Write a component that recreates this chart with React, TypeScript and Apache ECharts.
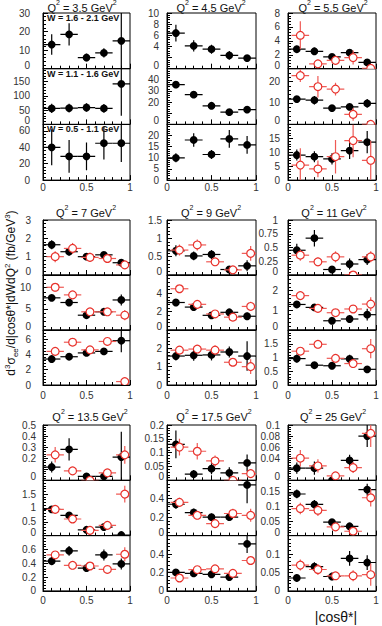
import React, { useEffect, useRef } from 'react';
import * as echarts from 'echarts';

// ---------- data ----------
const xBlack = [0.1, 0.3, 0.5, 0.7, 0.9];
const xRed = [0.14, 0.34, 0.54, 0.74, 0.94];
const xHalfWidth = 0.1;
const q2Values = ['3.5', '4.5', '5.5', '7', '9', '11', '13.5', '17.5', '25'];
const wBinLabels = ['W = 1.6 - 2.1 GeV', 'W = 1.1 - 1.6 GeV', 'W = 0.5 - 1.1 GeV'];
const xTickLabels = ['0', '0.5', '1'];

// rows: W bins top, middle, bottom
const q35Black = [[13, 18.5, 6, 8.5, 15], [56, 57, 59, 56, 142], [40, 29, 29, 45, 45]];
const q35BlackErr = [[5.5, 6, 2, 2.5, 15], [16, 15, 15, 15, 112], [22, 20, 17, 20, 23]];

const q45Black = [[6.4, 4.1, 3.5, 2.4, 1.9], [35.7, 26.7, 16.7, 11, 13.3], [10, 18, 11.5, 18.5, 15.8]];
const q45BlackErr = [[1.5, 1.0, 0.8, 0.8, 0.5], [3, 3, 2, 2, 3], [2, 3, 2, 4, 4]];

const q55Black = [[2.8, 2.5, 1.7, 2.3, 0.9], [11.8, 11.3, 7.6, 8.2, 9.8], [9, 8.4, 7.6, 10.6, 13.6]];
const q55BlackErr = [[0.5, 0.5, 0.4, 0.5, 0.4], [1.5, 2, 1, 1.5, 2], [2, 2, 2, 3, 4]];
const q55Red = [[4.8, 0.7, 1.2, 1.6, 0.05], [22.8, 17.6, 16.5, 4.7, 0], [5.4, 4, 8.4, 14.2, 7.1]];
const q55RedErr = [[2.0, 0.6, 0.6, 1.0, 0.3], [3, 5, 3, 3, 0.5], [6, 3, 6, 6, 7]];

const q7Black = [[1.65, 1.27, 1.0, 1.1, 0.67], [7.6, 6.5, 3.5, 4.3, 7.1], [3.4, 3.7, 4.2, 4.4, 5.8]];
const q7BlackErr = [[0.25, 0.2, 0.15, 0.15, 0.15], [0.6, 0.5, 0.5, 0.5, 1.3], [0.3, 0.3, 0.3, 0.4, 1.5]];
const q7Red = [[1.0, 1.45, 0.96, 0.9, 0.55], [10.1, 8.3, 4.3, 4.3, 3.5], [4.4, 5.6, 4.6, 5.7, 0.45]];
const q7RedErr = [[0.3, 0.3, 0.25, 0.2, 0.2], [1, 0.8, 0.6, 0.6, 1.2], [0.5, 0.5, 0.5, 0.6, 0.3]];

const q9Black = [[0.66, 0.52, 0.56, 0.15, 0.25], [3.0, 2.5, 1.6, 1.93, 1.5], [1.58, 1.62, 1.64, 1.8, 1.58]];
const q9BlackErr = [[0.15, 0.12, 0.12, 0.05, 0.15], [0.3, 0.2, 0.2, 0.3, 0.4], [0.25, 0.3, 0.3, 0.3, 0.8]];
const q9Red = [[0.68, 0.82, 0.36, 0.14, 0.59], [4.5, 2.8, 1.75, 1.4, 2.57], [1.9, 1.96, 1.9, 1.24, 1.0]];
const q9RedErr = [[0.15, 0.15, 0.1, 0.05, 0.2], [0.4, 0.3, 0.25, 0.25, 0.5], [0.2, 0.2, 0.25, 0.2, 0.4]];

const q11Black = [[0.45, 0.67, 0.1, 0.2, 0.28], [1.3, 1.15, 0.47, 0.56, 0.78], [0.96, 0.72, 0.7, 0.95, 0.57]];
const q11BlackErr = [[0.12, 0.15, 0.05, 0.1, 0.1], [0.15, 0.15, 0.15, 0.2, 0.3], [0.15, 0.1, 0.1, 0.15, 0.1]];
const q11Red = [[0.36, 0.24, 0.33, 0.0, 0.33], [1.75, 1.1, 0.88, 1.07, 1.32], [1.23, 1.48, 0.97, 0.78, 1.32]];
const q11RedErr = [[0.1, 0.08, 0.1, 0.05, 0.1], [0.2, 0.15, 0.15, 0.2, 0.35], [0.15, 0.15, 0.15, 0.1, 0.35]];

const q135Black = [[0.12, 0.28, 0.036, 0.036, 0.21], [0.95, 0.73, 0.21, 0.31, 0.02], [0.43, 0.58, 0.33, 0.52, 0.39]];
const q135BlackErr = [[0.05, 0.1, 0.03, 0.03, 0.23], [0.1, 0.08, 0.05, 0.05, 0.02], [0.06, 0.07, 0.05, 0.08, 0.08]];
const q135Red = [[0.23, 0.085, 0.0, 0.067, 0.23], [0.95, 0.6, 0.19, 0.37, 1.5], [0.52, 0.37, 0.36, 0.31, 0.53]];
const q135RedErr = [[0.07, 0.03, 0.02, 0.03, 0.08], [0.1, 0.08, 0.05, 0.07, 0.3], [0.05, 0.05, 0.05, 0.06, 0.1]];

const q175Black = [[0.13, 0.022, 0.042, 0.027, 0.063], [0.34, 0.25, 0.2, 0.2, 0.55], [0.2, 0.19, 0.18, 0.15, 0.51]];
const q175BlackErr = [[0.05, 0.015, 0.02, 0.02, 0.03], [0.05, 0.04, 0.04, 0.04, 0.2], [0.03, 0.03, 0.04, 0.03, 0.1]];
const q175Red = [[0.12, 0.105, 0.07, 0.0, 0.024], [0.36, 0.22, 0.13, 0.24, 0.22], [0.14, 0.23, 0.24, 0.19, 0.33]];
const q175RedErr = [[0.03, 0.03, 0.02, 0.01, 0.015], [0.05, 0.04, 0.03, 0.05, 0.07], [0.02, 0.04, 0.04, 0.03, 0.05]];

const q25Black = [[0.022, 0.022, 0.0, 0.036, 0.08], [0.143, 0.107, 0.046, 0.032, 0.158], [0.035, 0.066, 0.039, 0.088, 0.077]];
const q25BlackErr = [[0.01, 0.012, 0.005, 0.01, 0.02], [0.015, 0.015, 0.01, 0.01, 0.02], [0.01, 0.012, 0.01, 0.02, 0.02]];
const q25Red = [[0.04, 0.026, 0.008, 0.023, 0.085], [0.093, 0.087, 0.03, 0.015, 0.13], [0.07, 0.058, 0.041, 0.041, 0.044]];
const q25RedErr = [[0.015, 0.012, 0.006, 0.01, 0.025], [0.02, 0.02, 0.01, 0.008, 0.03], [0.015, 0.015, 0.01, 0.015, 0.03]];

// y-axis ranges and tick steps per group (top, middle, bottom)
const yMaxes = [[30, 195, 68], [10, 50, 25], [8, 26, 20], [3, 13, 7.2], [1.5, 6, 3], [1, 2.8, 2], [0.5, 2, 0.8], [0.2, 0.6, 0.6], [0.1, 0.19, 0.15]];
const ySteps = [[10, 50, 20], [2, 10, 5], [2, 10, 5], [1, 5, 2], [0.5, 2, 1], [0.25, 1, 0.5], [0.1, 0.5, 0.2], [0.05, 0.2, 0.2], [0.02, 0.05, 0.05]];

const blackSets = [q35Black, q45Black, q55Black, q7Black, q9Black, q11Black, q135Black, q175Black, q25Black];
const blackErrSets = [q35BlackErr, q45BlackErr, q55BlackErr, q7BlackErr, q9BlackErr, q11BlackErr, q135BlackErr, q175BlackErr, q25BlackErr];
const redSets = [null, null, q55Red, q7Red, q9Red, q11Red, q135Red, q175Red, q25Red];
const redErrSets = [null, null, q55RedErr, q7RedErr, q9RedErr, q11RedErr, q135RedErr, q175RedErr, q25RedErr];

// ---------- layout ----------
const FONT = 'Liberation Sans, Arial, Helvetica, sans-serif';
const colLeft = [43, 167, 288];
const colWidth = [87, 89, 88];
const rowTop = [13, 220, 425];
const rowPanelH = [55.7, 55, 55.3];
const titleY = [6, 211, 415];
const titleX = [82, 211, 333, 86, 211, 334, 90, 214, 333];
const yLabelMargin = [13, 8, 8, 12, 5, 10, 7, 3, 8];
const xLabelMargin = [2, 5, 5];
const LABEL_COLOR = '#333';

const BLACK = '#000000';
const RED = '#e8322c';
const RED_BAR = '#ef5a55';

function makeRender(hi: number, color: string, barColor: string, filled: boolean) {
  return (params: any, api: any) => {
    const x = api.value(0);
    const y = api.value(1);
    const e = api.value(2);
    const c = api.coord([x, y]);
    const l = api.coord([Math.max(x - xHalfWidth, 0), y]);
    const r = api.coord([Math.min(x + xHalfWidth, 1), y]);
    const t = api.coord([x, Math.min(y + e, hi)]);
    const b = api.coord([x, Math.max(y - e, 0)]);
    return {
      type: 'group',
      children: [
        { type: 'line', shape: { x1: l[0], y1: l[1], x2: r[0], y2: r[1] }, style: { stroke: barColor, lineWidth: 1.2 } },
        { type: 'line', shape: { x1: t[0], y1: t[1], x2: b[0], y2: b[1] }, style: { stroke: barColor, lineWidth: 1.2 } },
        {
          type: 'circle',
          shape: { cx: c[0], cy: c[1], r: 3.9 },
          style: filled ? { fill: color } : { fill: '#ffffff', stroke: color, lineWidth: 1.2 },
        },
      ],
    };
  };
}

function buildOption() {
  const grid: any[] = [];
  const xAxis: any[] = [];
  const yAxis: any[] = [];
  const series: any[] = [];
  const graphic: any[] = [];

  for (let g = 0; g < 9; g++) {
    const col = g % 3;
    const row = Math.floor(g / 3);
    for (let s = 0; s < 3; s++) {
      const idx = g * 3 + s;
      const top = rowTop[row] + s * rowPanelH[row];
      grid.push({
        left: colLeft[col],
        top,
        width: colWidth[col],
        height: rowPanelH[row],
        show: true,
        borderColor: '#000',
        borderWidth: 1,
        backgroundColor: 'transparent',
        containLabel: false,
        outerBoundsMode: 'none',
      });
      xAxis.push({
        type: 'value',
        gridIndex: idx,
        min: 0,
        max: 1,
        interval: 0.5,
        axisLine: { show: true, onZero: false, lineStyle: { color: '#000', width: 1 } },
        axisTick: { show: true, inside: true, length: 5, lineStyle: { color: '#000', width: 1 } },
        minorTick: { show: true, splitNumber: 5, length: 3, lineStyle: { color: '#000', width: 1 } },
        splitLine: { show: false },
        minorSplitLine: { show: false },
        axisLabel: {
          show: s === 2,
          margin: xLabelMargin[row],
          fontSize: 10,
          fontFamily: FONT,
          color: LABEL_COLOR,
          formatter: (v: number) => xTickLabels[Math.round(v * 2)] ?? '',
        },
      });
      const hi = yMaxes[g][s];
      const lowerPanel = s < 2;
      yAxis.push({
        type: 'value',
        gridIndex: idx,
        min: 0,
        max: hi,
        interval: ySteps[g][s],
        axisLine: { show: true, onZero: false, lineStyle: { color: '#000', width: 1 } },
        axisTick: { show: true, inside: true, length: 5, lineStyle: { color: '#000', width: 1 } },
        minorTick: { show: true, splitNumber: 5, length: 3, lineStyle: { color: '#000', width: 1 } },
        splitLine: { show: false },
        minorSplitLine: { show: false },
        axisLabel: {
          show: true,
          showMaxLabel: s === 0,
          showMinLabel: true,
          margin: yLabelMargin[g],
          fontSize: 10,
          lineHeight: 10,
          fontFamily: FONT,
          color: LABEL_COLOR,
          formatter: (v: number) => (lowerPanel && v === 0 ? '{z|0}' : String(v)),
          rich: {
            z: { fontSize: 10, lineHeight: 10, fontFamily: FONT, color: LABEL_COLOR, padding: [0, 0, 7, 0] },
          },
        },
      });
      const bVals = blackSets[g][s];
      const bErrs = blackErrSets[g][s];
      series.push({
        type: 'custom',
        xAxisIndex: idx,
        yAxisIndex: idx,
        clip: true,
        silent: true,
        renderItem: makeRender(hi, BLACK, BLACK, true),
        encode: { x: 0, y: 1 },
        data: xBlack.map((x, i) => [x, bVals[i], bErrs[i]]),
        z: 2,
      });
      const rSet = redSets[g];
      const rErrSet = redErrSets[g];
      if (rSet && rErrSet) {
        const rVals = rSet[s];
        const rErrs = rErrSet[s];
        series.push({
          type: 'custom',
          xAxisIndex: idx,
          yAxisIndex: idx,
          clip: true,
          silent: true,
          renderItem: makeRender(hi, RED, RED_BAR, false),
          encode: { x: 0, y: 1 },
          data: xRed.map((x, i) => [x, rVals[i], rErrs[i]]),
          z: 3,
        });
      }
    }
    graphic.push({
      type: 'text',
      x: titleX[g],
      y: titleY[row],
      style: {
        text: `{a|Q}{s|2}{a| = ${q2Values[g]} GeV}{s|2}`,
        align: 'center',
        verticalAlign: 'middle',
        rich: {
          a: { fontSize: 11, fontFamily: FONT, fill: '#111', lineHeight: 14, verticalAlign: 'bottom' },
          s: { fontSize: 7, fontFamily: FONT, fill: '#111', lineHeight: 14, verticalAlign: 'top' },
        },
      },
    });
  }

  // W bin labels in the first group
  for (let s = 0; s < 3; s++) {
    graphic.push({
      type: 'text',
      x: colLeft[0] + 4,
      y: rowTop[0] + s * rowPanelH[0] + 5,
      style: {
        text: wBinLabels[s],
        fontSize: 9,
        fontWeight: 'bold',
        fontFamily: FONT,
        fill: '#111',
        align: 'left',
        verticalAlign: 'middle',
      },
      z: 10,
    });
  }

  // y-axis title
  graphic.push({
    type: 'text',
    x: 11,
    y: 293,
    rotation: Math.PI / 2,
    style: {
      text: '{a|d}{s|3}{a|σ}{b|ee}{a|/d|cosθ*|dWdQ}{s|2}{a| (fb/GeV}{s|3}{a|)}',
      align: 'center',
      verticalAlign: 'middle',
      rich: {
        a: { fontSize: 12, fontFamily: FONT, fill: '#111', lineHeight: 16, verticalAlign: 'middle' },
        s: { fontSize: 8, fontFamily: FONT, fill: '#111', lineHeight: 16, verticalAlign: 'top' },
        b: { fontSize: 8, fontFamily: FONT, fill: '#111', lineHeight: 16, verticalAlign: 'bottom' },
      },
    },
  });

  // x-axis title
  graphic.push({
    type: 'text',
    x: 336,
    y: 617,
    style: {
      text: '|cosθ*|',
      fontSize: 14,
      fontFamily: FONT,
      fill: '#111',
      align: 'center',
      verticalAlign: 'middle',
    },
  });

  return {
    animation: false,
    backgroundColor: '#ffffff',
    grid,
    xAxis,
    yAxis,
    series,
    graphic,
  };
}

export default function App() {
  const ref = useRef<HTMLDivElement>(null);
  useEffect(() => {
    if (!ref.current) return;
    const chart = echarts.init(ref.current, undefined, { renderer: 'svg' });
    chart.setOption(buildOption() as any);
    return () => chart.dispose();
  }, []);
  return (
    <div
      ref={ref}
      style={{ position: 'absolute', left: 0, top: 0, width: 382, height: 626 }}
    />
  );
}
